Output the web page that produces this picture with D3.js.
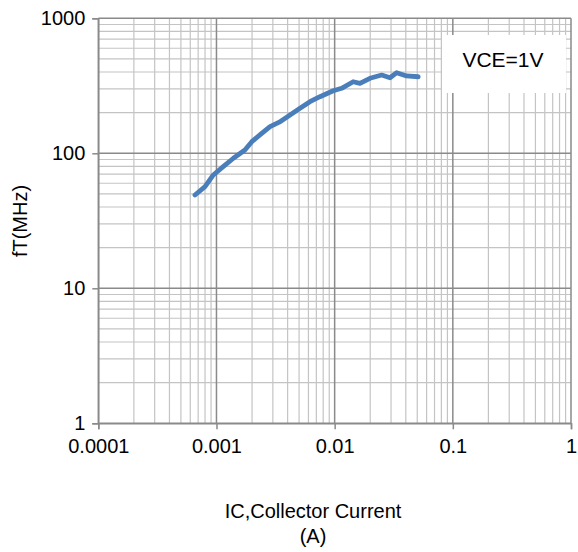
<!DOCTYPE html>
<html><head><meta charset="utf-8">
<script src="https://cdn.jsdelivr.net/npm/d3@7"></script>
<style>body{margin:0;background:#fff}svg{display:block}text{font-family:"Liberation Sans",Arial,sans-serif;fill:#000}</style>
</head><body>
<script>
const current = [0.000658,0.0008,0.00094,0.00114,0.00139,0.00174,0.00199,0.00233,0.00284,0.0034,0.00393,0.00509,0.00618,0.00751,0.00973,0.01146,0.01435,0.01637,0.0199,0.025,0.0294,0.0335,0.0406,0.0509];
const ft = [49.1,56.6,69.1,79.6,91.9,105.8,121.9,136.7,157.4,170,185,215.4,241,262.6,290.8,303,339,330,359.4,380,363,395.5,374,369];
const xTickValues = [0.0001,0.001,0.01,0.1,1];
const xTickLabels = ["0.0001","0.001","0.01","0.1","1"];
const yTickValues = [1,10,100,1000];
const yTickLabels = ["1","10","100","1000"];
const xTitle = ["IC,Collector Current","(A)"];
const yTitle = "fT(MHz)";
const legendText = "VCE=1V";

const W=578,H=552;
const m={l:98.3,r:571,t:18.3,b:423.3};
const svg=d3.select("body").append("svg").attr("width",W).attr("height",H);
const x=d3.scaleLog().domain([0.0001,1]).range([m.l,m.r]);
const y=d3.scaleLog().domain([1,1000]).range([m.b,m.t]);

const minorX=[],minorY=[];
for(let e=-4;e<0;e++)for(let k=2;k<=9;k++)minorX.push(k*Math.pow(10,e));
for(let e=0;e<3;e++)for(let k=2;k<=9;k++)minorY.push(k*Math.pow(10,e));

const g=svg.append("g");
g.selectAll(".mx").data(minorX).join("line").attr("x1",d=>x(d)).attr("x2",d=>x(d)).attr("y1",m.t).attr("y2",m.b).attr("stroke","#c4c4c4").attr("stroke-width",1.2);
g.selectAll(".my").data(minorY).join("line").attr("y1",d=>y(d)).attr("y2",d=>y(d)).attr("x1",m.l).attr("x2",m.r).attr("stroke","#c4c4c4").attr("stroke-width",1.2);
g.selectAll(".Mx").data(xTickValues).join("line").attr("x1",d=>x(d)).attr("x2",d=>x(d)).attr("y1",m.t).attr("y2",m.b).attr("stroke","#8a8a8a").attr("stroke-width",1.5);
g.selectAll(".My").data(yTickValues).join("line").attr("y1",d=>y(d)).attr("y2",d=>y(d)).attr("x1",m.l).attr("x2",m.r).attr("stroke","#8a8a8a").attr("stroke-width",1.5);

// axes
const xa=svg.append("g").attr("transform",`translate(0,${m.b})`).call(d3.axisBottom(x).tickValues(xTickValues).tickFormat((d,i)=>xTickLabels[i]).tickSize(6).tickPadding(10));
const ya=svg.append("g").attr("transform",`translate(${m.l},0)`).call(d3.axisLeft(y).tickValues(yTickValues).tickFormat((d,i)=>yTickLabels[i]).tickSize(6).tickPadding(7));
[xa,ya].forEach(a=>{a.select(".domain").attr("stroke","#8a8a8a").attr("stroke-width",1.5);a.selectAll(".tick line").attr("stroke","#8a8a8a").attr("stroke-width",1.5);a.selectAll("text").attr("font-size",20).attr("font-family","Liberation Sans, Arial, sans-serif");});

// legend box
svg.append("rect").attr("x",442).attr("y",35).attr("width",124).attr("height",58).attr("fill","#fff");
svg.append("text").attr("x",503).attr("y",67).attr("text-anchor","middle").attr("font-size",21).text(legendText);

// line
svg.append("path").datum(current.map((c,i)=>[c,ft[i]])).attr("fill","none").attr("stroke","#4a7ebb").attr("stroke-width",4.8).attr("stroke-linejoin","round").attr("stroke-linecap","round")
 .attr("d",d3.line().x(d=>x(d[0])).y(d=>y(d[1])));

// titles
svg.append("text").attr("x",313).attr("y",518).attr("text-anchor","middle").attr("font-size",20).text(xTitle[0]);
svg.append("text").attr("x",313).attr("y",543).attr("text-anchor","middle").attr("font-size",20).text(xTitle[1]);
svg.append("text").attr("transform","translate(27,221) rotate(-90)").attr("text-anchor","middle").attr("font-size",20).text(yTitle);
</script>
</body></html>
